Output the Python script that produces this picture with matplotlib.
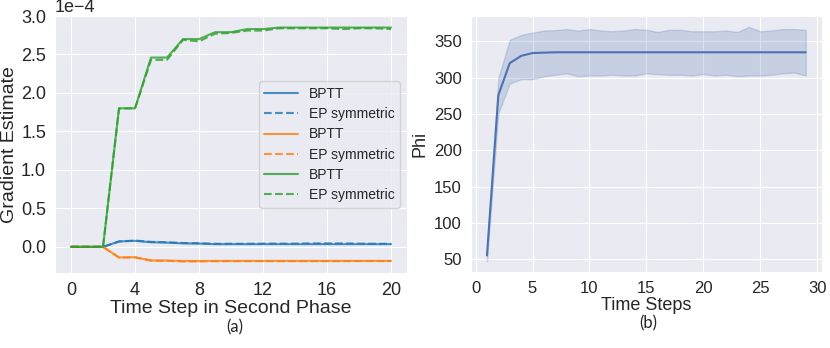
import matplotlib
matplotlib.use("Agg")
import matplotlib.pyplot as plt
import seaborn as sns
import numpy as np

sns.set_style("darkgrid")
plt.rcParams['font.family'] = ['Liberation Sans', 'DejaVu Sans']

# ---------------- panel (a): gradient estimates (units of 1e-4) ----------------
steps_a = list(range(21))
bptt_blue = [0, 0, 0, 0.07, 0.078, 0.06, 0.055, 0.045, 0.042, 0.035, 0.035, 0.035,
             0.035, 0.035, 0.035, 0.035, 0.035, 0.035, 0.035, 0.035, 0.035]
ep_blue = [0, 0, 0, 0.07, 0.082, 0.065, 0.06, 0.05, 0.047, 0.04, 0.04, 0.04,
           0.042, 0.042, 0.042, 0.045, 0.045, 0.045, 0.042, 0.04, 0.04]
bptt_orange = [0, 0, 0, -0.138, -0.135, -0.177, -0.178, -0.184, -0.184, -0.183, -0.183, -0.183,
               -0.183, -0.183, -0.183, -0.183, -0.183, -0.183, -0.183, -0.183, -0.183]
ep_orange = [0, 0, 0, -0.14, -0.137, -0.18, -0.182, -0.19, -0.19, -0.187, -0.186, -0.186,
             -0.186, -0.186, -0.186, -0.186, -0.186, -0.186, -0.185, -0.185, -0.185]
bptt_green = [0, 0, 0, 1.80, 1.80, 2.46, 2.46, 2.70, 2.70, 2.79, 2.79, 2.83,
              2.83, 2.85, 2.85, 2.85, 2.85, 2.85, 2.85, 2.85, 2.85]
ep_green = [0, 0, 0, 1.80, 1.80, 2.43, 2.43, 2.69, 2.67, 2.77, 2.78, 2.81,
            2.81, 2.84, 2.84, 2.84, 2.84, 2.83, 2.84, 2.84, 2.83]

# ---------------- panel (b): Phi over time steps ----------------
steps_b = list(range(1, 30))
phi_mean = [55, 276, 320, 330, 334, 334.5, 335, 335, 335, 335, 335, 335, 335, 335, 335,
            335, 335, 335, 335, 335, 335, 335, 335, 335, 335, 335, 335, 335, 335]
phi_upper = [57, 300, 352, 359, 362, 365, 365.5, 367, 365, 367, 365, 364, 365, 367, 366,
             363, 366, 366, 364, 364, 364, 365, 363, 370, 364, 365, 367, 367, 366]
phi_lower = [47, 251, 292, 298, 298, 302, 304, 306, 302, 303, 303, 304, 303, 303, 306,
             305, 304, 304, 303, 305, 303, 304, 302, 303, 303, 304, 306, 307, 303]

fig = plt.figure(figsize=(8.3, 3.48), dpi=100)
ax1 = fig.add_axes([0.0663, 0.2155, 0.4241, 0.7385])
ax2 = fig.add_axes([0.5675, 0.2192, 0.4225, 0.7348])

colors = ['tab:blue', 'tab:orange', 'tab:green']
pairs = [(bptt_blue, ep_blue), (bptt_orange, ep_orange), (bptt_green, ep_green)]
scale = 1e-4
for c, (b, e) in zip(colors, pairs):
    ax1.plot(steps_a, np.array(b) * scale, color=c, lw=1.5, alpha=0.8, label='BPTT')
    ax1.plot(steps_a, np.array(e) * scale, color=c, lw=1.5, alpha=0.8, ls='--', label='EP symmetric')

ax1.set_xlim(-1.0, 21.0)
ax1.set_ylim(-0.34e-4, 3.0e-4)
ax1.set_xticks([0, 4, 8, 12, 16, 20])
ax1.set_yticks(np.arange(0, 3.01, 0.5) * scale)
ax1.ticklabel_format(style='sci', axis='y', scilimits=(0, 0))
ax1.tick_params(labelsize=13, pad=3)
ax1.yaxis.get_offset_text().set_fontsize(13)
ax1.set_xlabel('Time Step in Second Phase', fontsize=14, labelpad=1)
ax1.set_ylabel('Gradient Estimate', fontsize=14, labelpad=2)
ax1.legend(loc='center right', fontsize=10, handlelength=2.4, labelspacing=0.45)

ax2.fill_between(steps_b, phi_lower, phi_upper, color='#4c72b0', alpha=0.22, lw=1)
ax2.plot(steps_b, phi_mean, color='#4c72b0', lw=1.5)
ax2.set_xlim(-0.4, 30.4)
ax2.set_ylim(32.6, 385)
ax2.set_xticks([0, 5, 10, 15, 20, 25, 30])
ax2.set_yticks([50, 100, 150, 200, 250, 300, 350])
ax2.tick_params(labelsize=12, pad=3)
ax2.set_xlabel('Time Steps', fontsize=13, labelpad=1)
ax2.set_ylabel('Phi', fontsize=13, labelpad=4)

fig.text(0.283, 0.06, '(a)', ha='center', va='center', fontsize=12, family='Lato')
fig.text(0.781, 0.07, '(b)', ha='center', va='center', fontsize=12, family='Lato')

fig.savefig('out.png', dpi=100, facecolor='white')
